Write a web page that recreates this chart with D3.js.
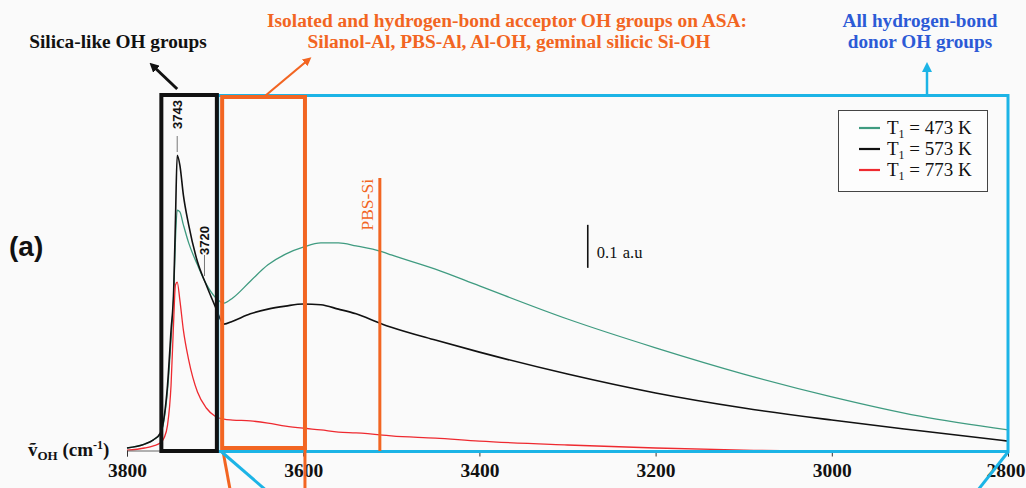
<!DOCTYPE html>
<html><head><meta charset="utf-8">
<script src="https://cdn.jsdelivr.net/npm/d3@7"></script>
<style>
body{margin:0;background:#fafafa;}
svg{display:block;}
</style></head>
<body>
<svg id="chart" width="1026" height="488"></svg>
<script>
// ---------------- data ----------------
const wavenumbers = [3800,3780,3770,3762,3758,3754,3750,3747,3745,3743,3740,3736,3730,3720,3710,3700,3690,3680,3660,3640,3620,3600,3580,3560,3540,3510,3500,3450,3400,3300,3200,3100,3000,2900,2800];
const abs473 = [0.007,0.016,0.026,0.040,0.072,0.142,0.258,0.363,0.491,0.560,0.556,0.526,0.484,0.433,0.388,0.358,0.344,0.356,0.395,0.433,0.458,0.474,0.484,0.484,0.477,0.463,0.456,0.423,0.384,0.307,0.240,0.179,0.126,0.081,0.049];
const abs573 = [0.007,0.016,0.026,0.042,0.077,0.153,0.281,0.374,0.537,0.688,0.665,0.595,0.526,0.440,0.386,0.337,0.295,0.302,0.319,0.330,0.337,0.342,0.340,0.330,0.319,0.295,0.288,0.258,0.230,0.179,0.135,0.100,0.072,0.047,0.023];
const abs773 = [0.002,0.007,0.012,0.019,0.030,0.060,0.153,0.305,0.386,0.393,0.351,0.281,0.212,0.137,0.100,0.081,0.074,0.072,0.070,0.065,0.058,0.053,0.049,0.044,0.042,0.037,0.035,0.030,0.023,0.014,0.007,0.002,0.000,0.000,0.000];
const seriesNames = ["473","573","773"];
const seriesColors = ["#3f9b80","#111111","#ee2a30"];
const xTicks = [3800,3600,3400,3200,3000,2800];
const peakLabels = [3743,3720];
const pbsSi = 3513;
const silicaRange = [3761,3698];
const acceptorRange = [3692,3598];
const donorRange = [3697,2800];

// ---------------- chart ----------------
const svg = d3.select("#chart");
const x = d3.scaleLinear().domain([3800,2800]).range([127,1008]);
const y = d3.scaleLinear().domain([0,0.828]).range([451,95]);
const ORANGE="#f26522", CYAN="#1cb4e6", BLUE="#2c5ad6";
const serif = "'Liberation Serif','Times New Roman',serif";
const sans = "'Liberation Sans',Arial,sans-serif";

svg.append("rect").attr("width",1026).attr("height",488).attr("fill","#fafafa");

const defs = svg.append("defs");
function marker(id,color,size){
  defs.append("marker").attr("id",id).attr("viewBox","0 0 10 10").attr("refX",5).attr("refY",5)
    .attr("markerWidth",size).attr("markerHeight",size).attr("orient","auto-start-reverse")
    .append("path").attr("d","M0,0 L10,5 L0,10 z").attr("fill",color);
}
marker("arBlack","#111",3.2);
marker("arOrange",ORANGE,4);
marker("arCyan",CYAN,4);

// curves
const allSeries = [abs473,abs573,abs773];
const line = d3.line().x(d=>x(d[0])).y(d=>y(d[1])).curve(d3.curveMonotoneX);
[0,1,2].forEach(i=>{
  svg.append("path").datum(wavenumbers.map((w,j)=>[w,allSeries[i][j]]))
    .attr("d",line).attr("fill","none").attr("stroke",seriesColors[i])
    .attr("stroke-width",i===1?1.6:1.3);
});

// axis
const axis = d3.axisBottom(x).tickValues(xTicks).tickSize(6).tickPadding(7).tickFormat(d3.format("d"));
const gx = svg.append("g").attr("transform","translate(0,450.5)").call(axis);
gx.select(".domain").attr("stroke","#666").attr("stroke-width",1);
gx.selectAll(".tick line").attr("stroke","#333");
gx.selectAll("text").attr("font-family",serif).attr("font-weight","bold").attr("font-size",19.5).attr("fill","#111");
// keep the last label inside the picture
gx.selectAll(".tick").filter(d=>d===2800).select("text").attr("text-anchor","end").attr("dx",17);

// cyan box (donor)
svg.append("rect").attr("x",x(donorRange[0])).attr("y",95.5)
  .attr("width",x(donorRange[1])-x(donorRange[0])).attr("height",356)
  .attr("fill","none").attr("stroke",CYAN).attr("stroke-width",3);
// black box (silica-like)
svg.append("rect").attr("x",x(silicaRange[0])).attr("y",95)
  .attr("width",x(silicaRange[1])-x(silicaRange[0])).attr("height",356)
  .attr("fill","none").attr("stroke","#111").attr("stroke-width",4);
// orange box (acceptor)
svg.append("rect").attr("x",x(acceptorRange[0])).attr("y",97)
  .attr("width",x(acceptorRange[1])-x(acceptorRange[0])).attr("height",351)
  .attr("fill","none").attr("stroke",ORANGE).attr("stroke-width",4);

// lines leaving the chart downward
svg.append("line").attr("x1",x(acceptorRange[0])+1).attr("y1",452).attr("x2",x(acceptorRange[0])+8).attr("y2",490).attr("stroke",ORANGE).attr("stroke-width",3);
svg.append("line").attr("x1",x(acceptorRange[1])).attr("y1",448).attr("x2",x(acceptorRange[1])).attr("y2",490).attr("stroke",ORANGE).attr("stroke-width",3);
svg.append("line").attr("x1",x(donorRange[0])+4).attr("y1",452).attr("x2",x(donorRange[0])+48).attr("y2",490).attr("stroke",CYAN).attr("stroke-width",3);
svg.append("line").attr("x1",x(donorRange[1])).attr("y1",452).attr("x2",x(donorRange[1])-30).attr("y2",490).attr("stroke",CYAN).attr("stroke-width",3);

// PBS-Si line
svg.append("line").attr("x1",x(pbsSi)).attr("x2",x(pbsSi)).attr("y1",y(0)).attr("y2",y(0.635))
  .attr("stroke",ORANGE).attr("stroke-width",3);
svg.append("text").attr("transform",`translate(${x(pbsSi)-7},${y(0.635)+1}) rotate(-90)`)
  .attr("text-anchor","end").attr("font-family",serif).attr("font-size",17.5).attr("fill",ORANGE).text("PBS-Si");

// peak labels
// 3743
svg.append("line").attr("x1",x(peakLabels[0])).attr("x2",x(peakLabels[0])).attr("y1",136).attr("y2",152).attr("stroke","#777").attr("stroke-width",1);
svg.append("text").attr("transform",`translate(${x(peakLabels[0])+5},100) rotate(-90)`)
  .attr("text-anchor","end").attr("font-family",sans).attr("font-weight","bold").attr("font-size",13).attr("fill","#111").text("3743");
// 3720
svg.append("line").attr("x1",x(peakLabels[1])+7).attr("x2",x(peakLabels[1])+7).attr("y1",255).attr("y2",276).attr("stroke","#777").attr("stroke-width",1);
svg.append("text").attr("transform",`translate(${x(peakLabels[1])+12},226) rotate(-90)`)
  .attr("text-anchor","end").attr("font-family",sans).attr("font-weight","bold").attr("font-size",13).attr("fill","#111").text("3720");

// scale bar
const sbX = x(3277);
svg.append("line").attr("x1",sbX).attr("x2",sbX).attr("y1",y(0.526)).attr("y2",y(0.426)).attr("stroke","#111").attr("stroke-width",1.6);
const sbt = svg.append("text").attr("y",258).attr("font-family",serif).attr("font-size",16.5).attr("fill","#111");
sbt.append("tspan").attr("x",sbX+9).text("0.1");
sbt.append("tspan").attr("x",sbX+35).text("a.u");

// legend
const lg = svg.append("g");
lg.append("rect").attr("x",838.5).attr("y",110.5).attr("width",149).attr("height",81).attr("fill","#fdfdfd").attr("stroke","#444").attr("stroke-width",1);
seriesNames.forEach((n,i)=>{
  const yy = 128 + i*21;
  lg.append("line").attr("x1",859).attr("x2",880).attr("y1",yy).attr("y2",yy).attr("stroke",seriesColors[i]).attr("stroke-width",2.2);
  const t = lg.append("text").attr("x",887).attr("y",yy+6).attr("font-family",serif).attr("font-size",19).attr("fill","#111");
  t.append("tspan").text("T");
  t.append("tspan").attr("font-size",12).attr("dy",4).text("1");
  t.append("tspan").attr("dy",-4).text(" = " + n + " K");
});

// "(a)"
svg.append("text").attr("x",9).attr("y",256).attr("font-family",sans).attr("font-weight","bold").attr("font-size",28).attr("fill","#111").text("(a)");

// axis label
const al = svg.append("text").attr("x",28).attr("y",456).attr("font-family",serif).attr("font-weight","bold").attr("font-size",19).attr("fill","#111");
al.append("tspan").text("\u1E7D");
al.append("tspan").attr("font-size",13).attr("dy",4).text("OH");
al.append("tspan").attr("dy",-4).text(" (cm");
al.append("tspan").attr("font-size",12).attr("dy",-7).text("-1");
al.append("tspan").attr("dy",7).text(")");

// top annotations
svg.append("text").attr("x",118).attr("y",48).attr("text-anchor","middle").attr("font-family",serif).attr("font-weight","bold").attr("font-size",19.3).attr("fill","#111").text("Silica-like OH groups");
svg.append("line").attr("x1",x(3743)).attr("y1",89).attr("x2",153).attr("y2",66).attr("stroke","#111").attr("stroke-width",3).attr("marker-end","url(#arBlack)");

const ot = svg.append("text").attr("text-anchor","middle").attr("font-family",serif).attr("font-weight","bold").attr("font-size",19.4).attr("fill",ORANGE);
ot.append("tspan").attr("x",507).attr("y",27).text("Isolated and hydrogen-bond acceptor OH groups on ASA:");
ot.append("tspan").attr("x",509).attr("y",48).text("Silanol-Al, PBS-Al, Al-OH, geminal silicic Si-OH");
svg.append("line").attr("x1",265).attr("y1",96).attr("x2",308).attr("y2",60).attr("stroke",ORANGE).attr("stroke-width",2.2).attr("marker-end","url(#arOrange)");

const bt = svg.append("text").attr("text-anchor","middle").attr("font-family",serif).attr("font-weight","bold").attr("font-size",19.2).attr("fill",BLUE);
bt.append("tspan").attr("x",920).attr("y",27).text("All hydrogen-bond");
bt.append("tspan").attr("x",920).attr("y",48).text("donor OH groups");
svg.append("line").attr("x1",927).attr("y1",95).attr("x2",927).attr("y2",67).attr("stroke",CYAN).attr("stroke-width",2.5).attr("marker-end","url(#arCyan)");
</script>
</body></html>
